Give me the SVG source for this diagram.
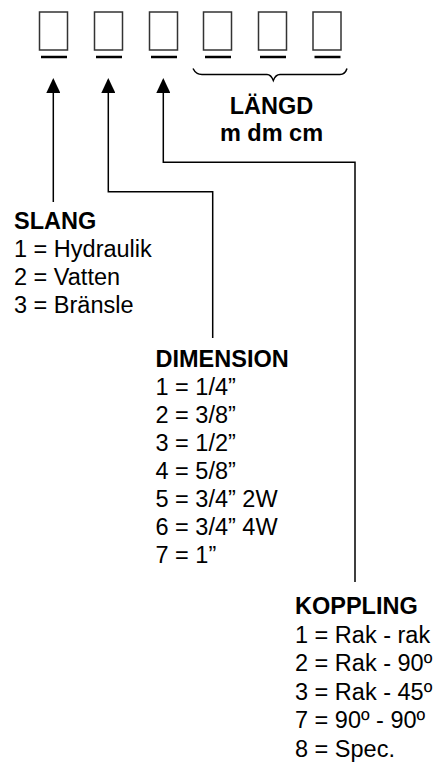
<svg xmlns="http://www.w3.org/2000/svg" width="440" height="762" viewBox="0 0 440 762">
<style>
.box{fill:#fff;stroke:#333;stroke-width:1.5}
.ul{stroke:#000;stroke-width:2.5}
.con{fill:none;stroke:#000;stroke-width:1.5}
text{font-family:"Liberation Sans",Arial,sans-serif;font-size:23.5px;fill:#000}
.h{font-weight:bold}
</style>
<defs>
<marker id="ah" viewBox="0 0 15 14" refX="13" refY="7" markerWidth="15" markerHeight="14" markerUnits="userSpaceOnUse" orient="auto">
<path d="M0,0 L15,7 L0,14 z" fill="#000"/>
</marker>
</defs>
<rect width="440" height="762" fill="#fff"/>
<g id="slots">
<g id="slot1"><rect class="box" x="39.5" y="12" width="28" height="38"/><line class="ul" x1="41" y1="57" x2="67" y2="57"/></g>
<g id="slot2"><rect class="box" x="94.5" y="12" width="28" height="38"/><line class="ul" x1="96" y1="57" x2="122" y2="57"/></g>
<g id="slot3"><rect class="box" x="149.5" y="12" width="28" height="38"/><line class="ul" x1="151" y1="57" x2="177" y2="57"/></g>
<g id="slot4"><rect class="box" x="203.5" y="12" width="28" height="38"/><line class="ul" x1="205" y1="57" x2="231" y2="57"/></g>
<g id="slot5"><rect class="box" x="258.5" y="12" width="28" height="38"/><line class="ul" x1="260" y1="57" x2="286" y2="57"/></g>
<g id="slot6"><rect class="box" x="313" y="12" width="28" height="38"/><line class="ul" x1="314.5" y1="57" x2="340.5" y2="57"/></g>
</g>
<g id="langd">
<path class="con" d="M193,68.5 Q196,74.5 202,74.5 L267,74.5 Q271,74.5 273.3,80.5 Q275.6,74.5 280,74.5 L340,74.5 Q345,74.5 347,68.5"/>
<text class="h" x="271.5" y="114" text-anchor="middle">LÄNGD</text>
<text class="h" x="271.5" y="141" text-anchor="middle">m dm cm</text>
</g>
<g id="connectors">
<path class="con" d="M53.3,202 L53.3,80" marker-end="url(#ah)"/>
<path class="con" d="M212.7,338 L212.7,191.7 L108.3,191.7 L108.3,80" marker-end="url(#ah)"/>
<path class="con" d="M355,582 L355,162.3 L163.3,162.3 L163.3,80" marker-end="url(#ah)"/>
</g>
<g id="slang">
<text class="h" x="14" y="228.5">SLANG</text>
<text x="14" y="256.5">1 = Hydraulik</text>
<text x="14" y="284.5">2 = Vatten</text>
<text x="14" y="312.5">3 = Bränsle</text>
</g>
<g id="dimension">
<text class="h" x="155.5" y="367">DIMENSION</text>
<text x="155.5" y="395">1 = 1/4”</text>
<text x="155.5" y="423">2 = 3/8”</text>
<text x="155.5" y="451">3 = 1/2”</text>
<text x="155.5" y="479">4 = 5/8”</text>
<text x="155.5" y="507">5 = 3/4” 2W</text>
<text x="155.5" y="535">6 = 3/4” 4W</text>
<text x="155.5" y="563">7 = 1”</text>
</g>
<g id="koppling">
<text class="h" x="295" y="614">KOPPLING</text>
<text x="295" y="642.5">1 = Rak - rak</text>
<text x="295" y="671">2 = Rak - 90º</text>
<text x="295" y="699.5">3 = Rak - 45º</text>
<text x="295" y="728">7 = 90º - 90º</text>
<text x="295" y="756.5">8 = Spec.</text>
</g>
</svg>
